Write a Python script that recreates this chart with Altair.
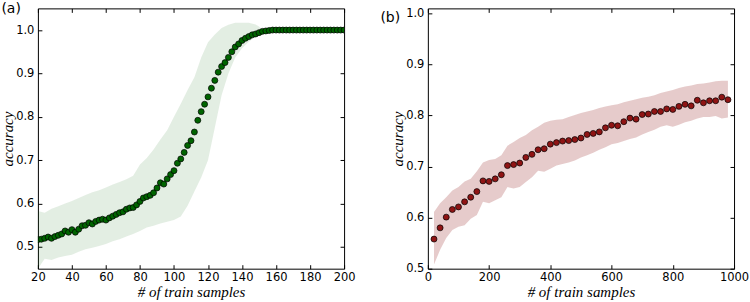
import altair as alt
import pandas as pd

# ---- panel (a): accuracy vs. number of training samples, step 2 ----
a_x = list(range(20, 202, 2))
a_acc = [
    0.517, 0.518, 0.520, 0.523, 0.520, 0.524, 0.527, 0.530, 0.537, 0.534,
    0.540, 0.534, 0.541, 0.549, 0.550, 0.556, 0.553, 0.559, 0.562, 0.564,
    0.562, 0.567, 0.571, 0.575, 0.579, 0.581, 0.587, 0.590, 0.591, 0.597,
    0.605, 0.613, 0.616, 0.619, 0.625, 0.636, 0.648, 0.645, 0.657, 0.667,
    0.676, 0.693, 0.703, 0.718, 0.734, 0.745, 0.765, 0.792, 0.812, 0.829,
    0.846, 0.866, 0.884, 0.903, 0.916, 0.925, 0.937, 0.950, 0.961, 0.968,
    0.976, 0.981, 0.985, 0.989, 0.991, 0.994, 0.997, 0.998, 0.999,
    1.000, 1.000, 1.000, 1.000, 1.000, 1.000, 1.000, 1.000, 1.000, 1.000,
    1.000, 1.000, 1.000, 1.000, 1.000, 1.000, 1.000, 1.000, 1.000, 1.000,
    1.000, 1.000,
]
# spread band of panel (a)
a_band_x = [20, 24, 28, 32, 36, 40, 44, 48, 52, 56, 60, 64, 68, 72, 76, 80,
            84, 88, 92, 96, 100, 104, 108, 112, 116, 120, 124, 128, 132, 136,
            140, 144, 148, 150, 152]
a_band_lo = [0.450, 0.473, 0.470, 0.476, 0.479, 0.482, 0.489, 0.495, 0.498,
             0.502, 0.507, 0.513, 0.518, 0.524, 0.530, 0.537, 0.545, 0.549,
             0.554, 0.558, 0.562, 0.570, 0.595, 0.628, 0.660, 0.700, 0.775,
             0.850, 0.900, 0.937, 0.958, 0.973, 0.985, 0.990, 0.997]
a_band_hi = [0.583, 0.579, 0.588, 0.594, 0.600, 0.606, 0.613, 0.620, 0.626,
             0.631, 0.637, 0.644, 0.650, 0.656, 0.664, 0.690, 0.705, 0.725,
             0.748, 0.769, 0.800, 0.830, 0.862, 0.891, 0.937, 0.972, 0.990,
             1.005, 1.012, 1.017, 1.017, 1.017, 1.013, 1.008, 1.000]

# ---- panel (b): accuracy vs. number of training samples, step 20 ----
b_x = list(range(20, 1000, 20))
b_acc = [
    0.558, 0.580, 0.601, 0.616, 0.621, 0.631, 0.640, 0.651, 0.672, 0.671,
    0.676, 0.684, 0.702, 0.704, 0.707, 0.718, 0.724, 0.733, 0.735, 0.744,
    0.747, 0.750, 0.751, 0.753, 0.756, 0.763, 0.765, 0.768, 0.776, 0.781,
    0.780, 0.788, 0.795, 0.793, 0.802, 0.803, 0.808, 0.808, 0.813, 0.812,
    0.818, 0.822, 0.819, 0.830, 0.825, 0.829, 0.829, 0.836, 0.831,
]
b_band_lo = [
    0.508, 0.537, 0.560, 0.576, 0.582, 0.585, 0.598, 0.605, 0.631, 0.628,
    0.634, 0.640, 0.660, 0.657, 0.660, 0.670, 0.679, 0.692, 0.690, 0.696,
    0.702, 0.705, 0.708, 0.712, 0.718, 0.722, 0.727, 0.733, 0.738, 0.744,
    0.746, 0.750, 0.754, 0.757, 0.763, 0.768, 0.772, 0.778, 0.781, 0.778,
    0.782, 0.787, 0.790, 0.794, 0.797, 0.797, 0.799, 0.794, 0.796,
]
b_band_hi = [
    0.611, 0.628, 0.640, 0.653, 0.660, 0.671, 0.676, 0.691, 0.708, 0.713,
    0.715, 0.722, 0.741, 0.748, 0.756, 0.762, 0.771, 0.778, 0.786, 0.790,
    0.792, 0.793, 0.797, 0.801, 0.805, 0.808, 0.811, 0.815, 0.818, 0.820,
    0.822, 0.826, 0.829, 0.832, 0.835, 0.837, 0.840, 0.844, 0.847, 0.850,
    0.854, 0.857, 0.859, 0.862, 0.863, 0.865, 0.867, 0.868, 0.868,
]

LABEL_FONT = "DejaVu Sans"
TITLE_FONT = "Liberation Serif"


def axis(orient, values, labels=True, title=None, fmt=None):
    # ticks point inward: the axis line sits 4px inside the frame and its
    # 4px ticks reach back out to the frame edge
    horizontal = orient in ("top", "bottom")
    kw = dict(
        orient=orient, values=values, labels=labels, grid=False, domain=False,
        ticks=True, tickSize=4, tickColor="black", tickWidth=1, offset=-4,
        labelFont=LABEL_FONT, labelFontSize=11.5, labelColor="black",
        labelPadding=3 if horizontal else 4, labelFlush=False,
        labelOverlap=False,
    )
    if fmt:
        kw["format"] = fmt
    if title:
        kw.update(title=title, titleFont=TITLE_FONT, titleFontStyle="italic",
                  titleFontWeight="normal", titleFontSize=15, titleColor="black",
                  titlePadding=1 if horizontal else 0)
    else:
        kw["title"] = ""
    return alt.Axis(**kw)


def panel(xs, acc, bx, blo, bhi, xdom, ydom, xticks, yticks, color,
          band_opacity, tag, tag_x, tag_y, w, h):
    pts_df = pd.DataFrame({"x": xs, "acc": acc})
    band_df = pd.DataFrame({"x": bx, "lo": blo, "hi": bhi})
    xs_ = alt.Scale(domain=xdom, nice=False, zero=False)
    ys_ = alt.Scale(domain=ydom, nice=False, zero=False)

    band = alt.Chart(band_df).mark_area(
        color=color, opacity=band_opacity, clip=True
    ).encode(
        x=alt.X("x:Q", scale=xs_,
                axis=axis("bottom", xticks, title="# of train samples",
                          fmt="d")),
        y=alt.Y("lo:Q", scale=ys_,
                axis=axis("left", yticks, title="accuracy", fmt=".1f")),
        y2="hi:Q",
    )
    pts = alt.Chart(pts_df).mark_circle(
        color=color, opacity=1, size=36, stroke="black", strokeWidth=0.7,
        clip=True,
    ).encode(
        x=alt.X("x:Q", scale=xs_, axis=axis("top", xticks, labels=False)),
        y=alt.Y("acc:Q", scale=ys_, axis=axis("right", yticks, labels=False)),
    )
    label = alt.Chart(pd.DataFrame({"t": [tag]})).mark_text(
        align="left", baseline="top", font=LABEL_FONT, fontSize=14,
        color="black",
    ).encode(x=alt.value(tag_x), y=alt.value(tag_y), text="t:N")

    return alt.layer(band, pts, label).resolve_axis(
        x="independent", y="independent"
    ).properties(width=w, height=h)


left = panel(a_x, a_acc, a_band_x, a_band_lo, a_band_hi, [20, 200],
             [0.45, 1.05], list(range(20, 201, 20)),
             [0.5, 0.6, 0.7, 0.8, 0.9, 1.0], "#006400", 0.11,
             "(a)", -36.6, -6.3, 307, 261)
right = panel(b_x, b_acc, b_x, b_band_lo, b_band_hi, [0, 1000],
              [0.5, 1.01], list(range(0, 1001, 200)),
              [0.5, 0.6, 0.7, 0.8, 0.9, 1.0], "#8f1414", 0.22,
              "(b)", -47.6, 2.2, 307, 261)

chart = alt.hconcat(left, right, spacing=84, bounds="flush").properties(
    padding={"left": 0, "top": 1, "right": 0, "bottom": 0}
).configure_view(stroke="black", strokeWidth=1)

chart.save("out.html", embed_options={"renderer": "svg", "actions": False})
